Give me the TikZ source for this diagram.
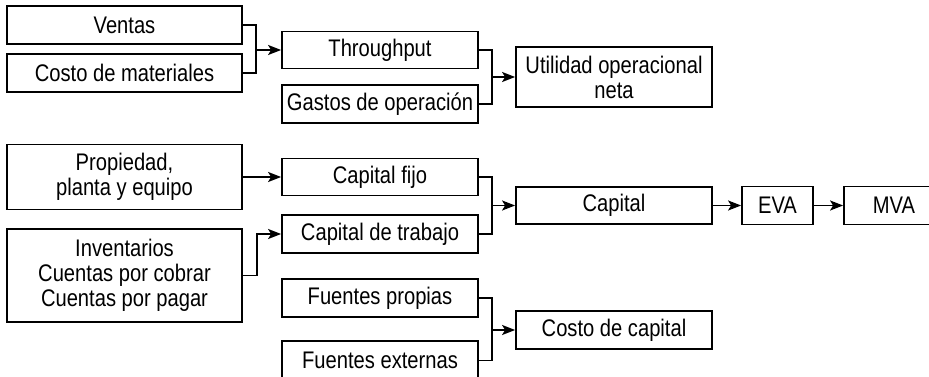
\documentclass[tikz,border=0pt]{standalone}
\usepackage{fontspec}
\setmainfont[FakeStretch=0.84]{Liberation Sans}
\usetikzlibrary{arrows.meta, positioning, calc}

\begin{document}
\begin{tikzpicture}[x=1pt, y=-1pt,
  bloque/.style={draw, line width=1.8pt, inner sep=0pt, align=center,
    font=\fontsize{24}{25}\selectfont},
  flecha/.style={line width=1.8pt, -{Stealth[length=13pt,width=10pt,inset=3pt]}},
  linea/.style={line width=1.8pt}]
\clip (0,0) rectangle (929,377);
\fill[white] (0,0) rectangle (929,377);
% primera columna
\node[bloque, minimum width=235, minimum height=38] (ven) at (124.5,25) {Ventas};
\node[bloque, minimum width=235, minimum height=38] (cmat) at (124.5,73) {Costo de materiales};
\node[bloque, minimum width=235, minimum height=65] (prop) at (124.5,177) {Propiedad,\\planta y equipo};
\node[bloque, minimum width=235, minimum height=93] (inv) at (124.5,275.5) {Inventarios\\Cuentas por cobrar\\Cuentas por pagar};
% segunda columna
\node[bloque, minimum width=196, minimum height=37] (thr) at (380,50) {Throughput};
\node[bloque, minimum width=196, minimum height=38] (gop) at (380,104) {Gastos de operación};
\node[bloque, minimum width=196, minimum height=37] (cfij) at (380,177) {Capital fijo};
\node[bloque, minimum width=196, minimum height=38] (ctra) at (380,234) {Capital de trabajo};
\node[bloque, minimum width=196, minimum height=38] (fpro) at (380,298) {Fuentes propias};
\node[bloque, minimum width=196, minimum height=39] (fext) at (380,360.5) {Fuentes externas};
% tercera columna
\node[bloque, minimum width=196, minimum height=60] (uon) at (614,77) {Utilidad operacional\\neta};
\node[bloque, minimum width=196, minimum height=37] (cap) at (614,205.5) {Capital};
\node[bloque, minimum width=196, minimum height=38] (ccap) at (614,330) {Costo de capital};
\node[bloque, minimum width=71, minimum height=38] (eva) at (777.5,205.5) {EVA};
\node[bloque, minimum width=100, minimum height=38] (mva) at (894,205.5) {MVA};
% uniones
\coordinate (j1) at (256,50);
\coordinate (j2) at (492,77);
\coordinate (j4) at (492,205.5);
\coordinate (j5) at (492,330);
\draw[linea] (ven.east) -| (j1) |- (cmat.east);
\draw[flecha] (j1) -- (thr.west);
\draw[linea] (thr.east) -| (j2) |- (gop.east);
\draw[flecha] (j2) -- (uon.west);
\draw[flecha] (prop.east) -- (cfij.west);
\draw[flecha] (inv.east) -- ++(14,0) |- (ctra.west);
\draw[linea] (cfij.east) -| (j4) |- (ctra.east);
\draw[flecha] (j4) -- (cap.west);
\draw[linea] (fpro.east) -| (j5) |- (fext.east);
\draw[flecha] (j5) -- (ccap.west);
\draw[flecha] (cap.east) -- (eva.west);
\draw[flecha] (eva.east) -- (mva.west);
\end{tikzpicture}
\end{document}
